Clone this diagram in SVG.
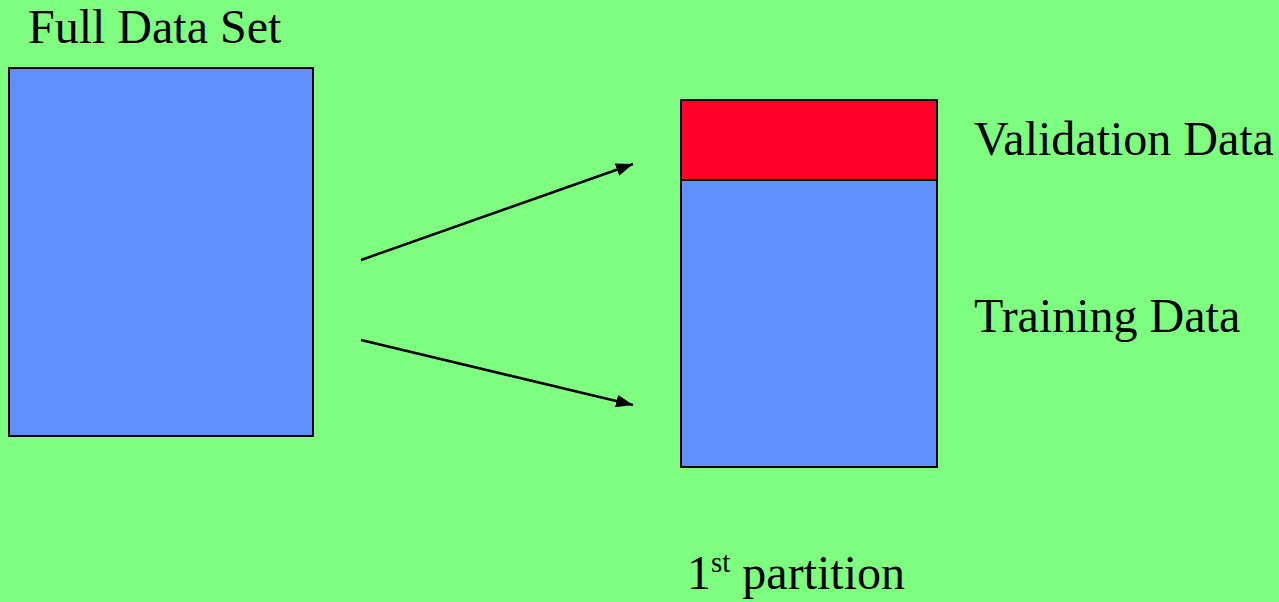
<svg xmlns="http://www.w3.org/2000/svg" width="1279" height="602" viewBox="0 0 1279 602">
<style>
  text { font-family: 'Liberation Serif', 'Times New Roman', Times, serif; font-size: 48px; fill: #000; }
  .box { stroke: #000; stroke-width: 2; }
  .blue { fill: #6090FF; }
  .red { fill: #FF0028; }
  .conn { stroke: #000; stroke-width: 2.5; fill: none; marker-end: url(#arrow); }
</style>
<defs>
  <marker id="arrow" viewBox="0 0 17 13" refX="17" refY="6.5" markerWidth="17" markerHeight="13" markerUnits="userSpaceOnUse" orient="auto">
    <path d="M0,0 L17,6.5 L0,13 z" fill="#000"/>
  </marker>
</defs>
<rect width="1279" height="602" fill="#7FFF7F"/>
<g id="full-data-set">
  <rect class="box blue" x="9" y="68" width="304" height="368"/>
  <text x="28" y="43">Full Data Set</text>
</g>
<g id="partition">
  <rect class="box blue" x="681" y="180" width="256" height="287"/>
  <rect class="box red" x="681" y="100" width="256" height="80"/>
  <text x="687" y="589">1<tspan font-size="29" dy="-17">st</tspan><tspan dy="17"> partition</tspan></text>
</g>
<g id="validation-label">
  <text x="974" y="155">Validation Data</text>
</g>
<g id="training-label">
  <text x="974" y="332">Training Data</text>
</g>
<g id="connectors">
  <line class="conn" x1="361" y1="260" x2="633" y2="164"/>
  <line class="conn" x1="361" y1="340" x2="633" y2="405"/>
</g>
</svg>
